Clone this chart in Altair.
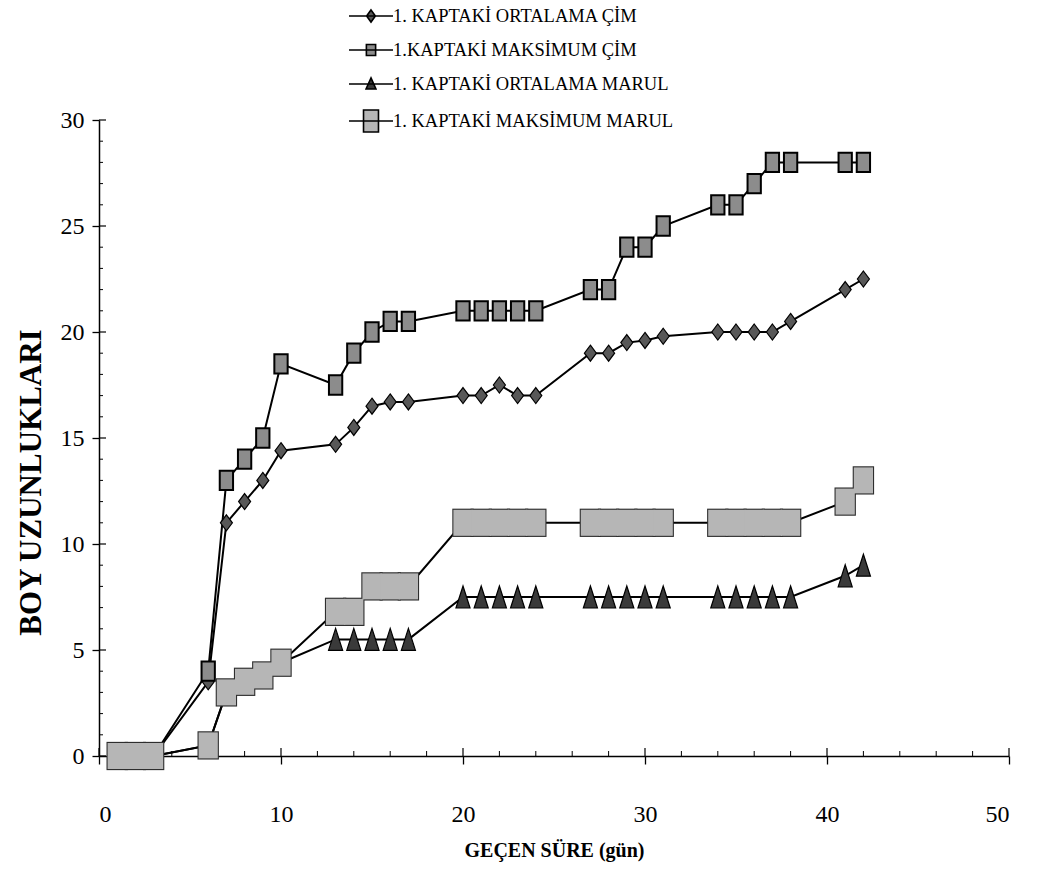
import altair as alt
import pandas as pd

# Days on which plant heights were measured
gun = [1, 2, 3, 6, 7, 8, 9, 10, 13, 14, 15, 16, 17, 20, 21, 22, 23, 24,
       27, 28, 29, 30, 31, 34, 35, 36, 37, 38, 41, 42]

ortalama_cim = [0, 0, 0, 3.5, 11, 12, 13, 14.4, 14.7, 15.5, 16.5, 16.7, 16.7,
                17, 17, 17.5, 17, 17, 19, 19, 19.5, 19.6, 19.8,
                20, 20, 20, 20, 20.5, 22, 22.5]
maksimum_cim = [0, 0, 0, 4, 13, 14, 15, 18.5, 17.5, 19, 20, 20.5, 20.5,
                21, 21, 21, 21, 21, 22, 22, 24, 24, 25,
                26, 26, 27, 28, 28, 28, 28]
ortalama_marul = [0, 0, 0, 0.5, 3, 3.5, 3.8, 4.4, 5.5, 5.5, 5.5, 5.5, 5.5,
                  7.5, 7.5, 7.5, 7.5, 7.5, 7.5, 7.5, 7.5, 7.5, 7.5,
                  7.5, 7.5, 7.5, 7.5, 7.5, 8.5, 9]
maksimum_marul = [0, 0, 0, 0.5, 3, 3.5, 3.8, 4.4, 6.8, 6.8, 8, 8, 8,
                  11, 11, 11, 11, 11, 11, 11, 11, 11, 11,
                  11, 11, 11, 11, 11, 12, 13]

seriler = [
    "1. KAPTAKİ ORTALAMA ÇİM",
    "1.KAPTAKİ MAKSİMUM ÇİM",
    "1. KAPTAKİ ORTALAMA MARUL",
    "1. KAPTAKİ MAKSİMUM MARUL",
]
degerler = [ortalama_cim, maksimum_cim, ortalama_marul, maksimum_marul]

# Axis tick positions
x_etiket = [0, 10, 20, 30, 40, 50]
x_ara = [v for v in range(0, 51, 2) if v % 10]
y_etiket = [0, 5, 10, 15, 20, 25, 30]
y_ara = [v for v in range(0, 31) if v % 5]

rows = []
for ad, vals in zip(seriler, degerler):
    for g, b in zip(gun, vals):
        rows.append({"gun": g, "boy": b, "seri": ad})
df = pd.DataFrame(rows)

W, H = 910, 636
FONT = "Liberation Serif"

# Marker outlines (taller than wide)
isaret = [
    "M0,-1L0.75,0L0,1L-0.75,0Z",          # diamond
    "M-0.69,-1H0.69V1H-0.69Z",           # small square
    "M0,-1L0.64,1L-0.64,1Z",             # triangle
]
isaret_boy = [256, 372, 484]
isaret_dolgu = ["#585858", "#8c8c8c", "#3a3a3a"]
isaret_cizgi = [1.2, 2.0, 1.2]

# Large squares: a dark plate under a light face, so touching squares merge
buyuk_kare_alt = "M-0.764,-1.01H0.764V1.01H-0.764Z"
buyuk_kare_ust = "M-0.686,-0.929H0.686V0.929H-0.686Z"
buyuk_kare_boy = 784
buyuk_kare_renk = ["#2e2e2e", "#b6b6b6"]

# Legend keys: a short line with the marker on it
lejant = [
    "M-2,0H2M0,-0.55L0.4,0L0,0.55L-0.4,0Z",
    "M-2,0H2M-0.42,-0.5H0.42V0.5H-0.42Z",
    "M-2,0H2M0,-0.55L0.45,0.45L-0.45,0.45Z",
    "M-2,0H2M-0.68,-1H0.68V1H-0.68Z",
]
lejant_dolgu = isaret_dolgu + [buyuk_kare_renk[1]]

X = alt.X(
    "gun:Q",
    scale=alt.Scale(domain=[0, 50], nice=False, zero=False),
    axis=alt.Axis(
        values=x_etiket, title="GEÇEN SÜRE (gün)", tickSize=8,
        labelPadding=38, format="d",
        titleFontSize=20, titleY=94, titleBaseline="middle",
    ),
)
Y = alt.Y(
    "boy:Q",
    scale=alt.Scale(domain=[0, 30], nice=False),
    axis=alt.Axis(
        values=y_etiket, title="BOY UZUNLUKLARI", tickSize=7,
        labelPadding=8, format="d",
        titleFontSize=31, titleX=-68, titleY=362, titleBaseline="middle",
    ),
)

cizgiler = alt.Chart(df).mark_line(color="black", strokeWidth=2).encode(
    x=X, y=Y, detail="seri:N", order="gun:Q"
)

# One marker layer per series
isaret_katmanlari = []
for ad, yol, boy, dolgu, cizgi in zip(seriler[:3], isaret, isaret_boy, isaret_dolgu, isaret_cizgi):
    isaret_katmanlari.append(
        alt.Chart(df).transform_filter(alt.datum.seri == ad).mark_point(
            shape=yol, size=boy, filled=True, fill=dolgu,
            stroke="black", strokeWidth=cizgi, opacity=1,
        ).encode(x=X, y=Y)
    )
for yol, renk in zip([buyuk_kare_alt, buyuk_kare_ust], buyuk_kare_renk):
    isaret_katmanlari.append(
        alt.Chart(df).transform_filter(alt.datum.seri == seriler[3]).mark_point(
            shape=yol, size=buyuk_kare_boy, filled=True, fill=renk,
            strokeWidth=0, opacity=1,
        ).encode(x=X, y=Y)
    )

lejant_ayar = dict(
    title=None, orient="none", legendX=260, legendY=-116,
    symbolSize=484, symbolStrokeWidth=1.6, symbolOpacity=1,
    labelFont=FONT, labelFontSize=18.5, labelColor="black", labelLimit=400,
    labelOffset=10, rowPadding=12, padding=0,
)
lejant_katmani = alt.Chart(df).transform_filter("datum.boy < -1").mark_point(
    filled=True, strokeWidth=1.6, opacity=1
).encode(
    x=X,
    y=Y,
    shape=alt.Shape("seri:N", scale=alt.Scale(domain=seriler, range=lejant),
                    legend=alt.Legend(**lejant_ayar)),
    fill=alt.Fill("seri:N", scale=alt.Scale(domain=seriler, range=lejant_dolgu),
                  legend=alt.Legend(**lejant_ayar)),
    stroke=alt.Stroke("seri:N", scale=alt.Scale(domain=seriler, range=["black"] * 4),
                      legend=alt.Legend(**lejant_ayar)),
)

# Inward tick marks along both axes
y_buyuk = alt.Chart(pd.DataFrame({"boy": y_etiket})).mark_rule(color="black", strokeWidth=1.2).encode(
    y=Y, x=alt.value(0), x2=alt.value(7)
)
y_kucuk = alt.Chart(pd.DataFrame({"boy": y_ara})).mark_rule(color="black", strokeWidth=1).encode(
    y=Y, x=alt.value(0), x2=alt.value(4)
)
x_buyuk = alt.Chart(pd.DataFrame({"gun": x_etiket})).mark_rule(color="black", strokeWidth=1.2).encode(
    x=X, y=alt.value(H), y2=alt.value(H - 8)
)
x_kucuk = alt.Chart(pd.DataFrame({"gun": x_ara})).mark_rule(color="black", strokeWidth=1).encode(
    x=X, y=alt.value(H), y2=alt.value(H - 5)
)

chart = (
    alt.layer(y_buyuk, y_kucuk, x_buyuk, x_kucuk, cizgiler,
              *isaret_katmanlari, lejant_katmani)
    .properties(
        width=W,
        height=H,
        padding={"left": 99, "top": 120, "right": 28, "bottom": 124},
        autosize=alt.AutoSizeParams(type="none"),
        background="white",
    )
    .configure_view(stroke=None)
    .configure_axis(
        grid=False,
        domainColor="black",
        domainWidth=1.5,
        tickColor="black",
        tickWidth=1.3,
        labelFont=FONT,
        labelFontSize=24,
        labelColor="black",
        titleFont=FONT,
        titleFontWeight="bold",
        titleColor="black",
    )
)

chart.save("out.html", embed_options={"renderer": "svg", "actions": False})
